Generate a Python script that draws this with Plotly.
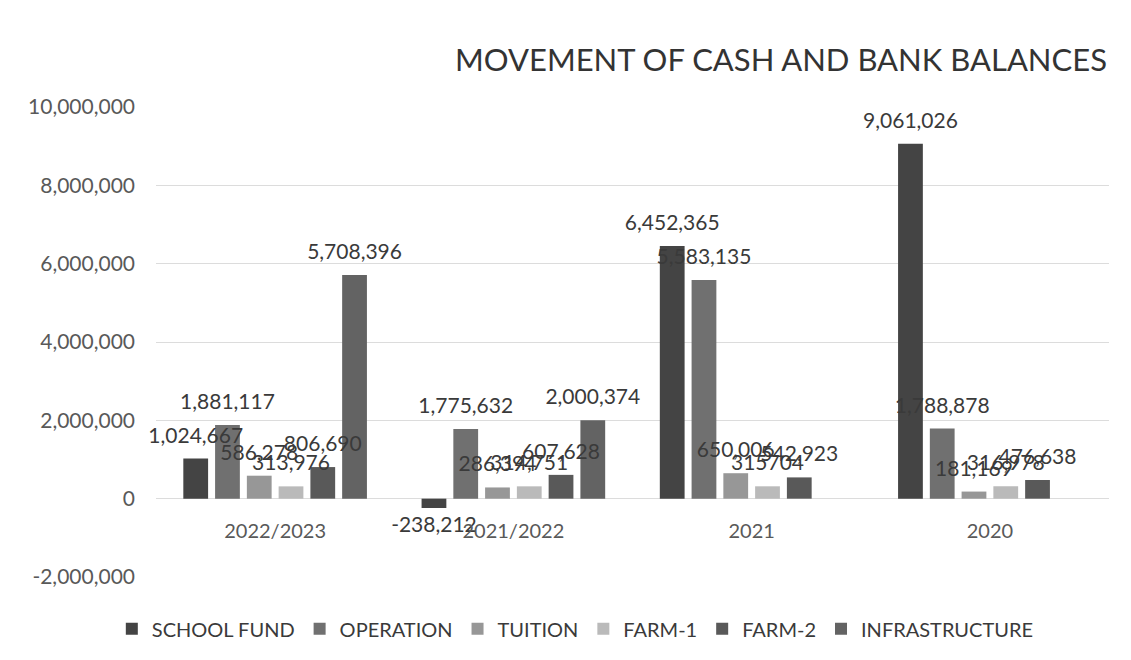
"""Movement of cash and bank balances — grouped bar chart."""

import plotly.graph_objects as go

# ---------------------------------------------------------------------------
# Data
# ---------------------------------------------------------------------------

years = ['2022/2023', '2021/2022', '2021', '2020']

school_fund = [1024667, -238212, 6452365, 9061026]
operation = [1881117, 1775632, 5583135, 1788878]
tuition = [586278, 286394, 650006, 181169]
farm_1 = [313976, 314751, 315704, 316978]
farm_2 = [806690, 607628, 542923, 476638]
infrastructure = [5708396, 2000374, None, None]

y_ticks = [-2000000, 0, 2000000, 4000000, 6000000, 8000000, 10000000]
y_tick_labels = ['-2,000,000', '0', '2,000,000', '4,000,000',
                 '6,000,000', '8,000,000', '10,000,000']

series = [
    ('SCHOOL FUND', school_fund, '#444444'),
    ('OPERATION', operation, '#707070'),
    ('TUITION', tuition, '#979797'),
    ('FARM-1', farm_1, '#bababa'),
    ('FARM-2', farm_2, '#595959'),
    ('INFRASTRUCTURE', infrastructure, '#636363'),
]

_FONT = 'Lato, Open Sans, sans-serif'
_LABEL_FONT = dict(family=_FONT, size=21, color='#3a3a3a')

Y_RANGE = [-2000000, 10000000]
# labels sit a little higher above the bars than plotly's default
_LIFT = 9 / 470 * (Y_RANGE[1] - Y_RANGE[0])


def _label(name, i, v):
    if v is None:
        return ''
    if name == 'FARM-1' and i == 2:
        return str(v)  # printed without a thousands separator in the source
    return f'{v:,}'


fig = go.Figure()
for name, values, color in series:
    labels = [_label(name, i, v) for i, v in enumerate(values)]
    # bars; negative values keep their label here (below the bar)
    fig.add_trace(go.Bar(
        x=years,
        y=values,
        name=name,
        marker=dict(color=color, line=dict(width=0)),
        text=[t if (v is not None and v < 0) else '' for t, v in zip(labels, values)],
        textposition='outside',
        constraintext='none',
        cliponaxis=False,
        textfont=_LABEL_FONT,
    ))

# label layer drawn on top of every bar (as in the source chart)
for name, values, color in series:
    labels = [_label(name, i, v) for i, v in enumerate(values)]
    fig.add_trace(go.Bar(
        x=years,
        y=values,
        name=name,
        xaxis='x2',
        yaxis='y2',
        showlegend=False,
        hoverinfo='skip',
        marker=dict(color='rgba(0,0,0,0)', line=dict(width=0)),
        text=[t if (v is not None and v >= 0) else '' for t, v in zip(labels, values)],
        textposition='outside',
        constraintext='none',
        cliponaxis=False,
        textfont=_LABEL_FONT,
    ))

# the page body adds an 8px offset, so margins are shifted by that amount
fig.update_layout(
    width=1131,
    height=660,
    paper_bgcolor='white',
    plot_bgcolor='white',
    barmode='group',
    bargap=0.2,
    bargroupgap=0.22,
    margin=dict(l=148, r=30, t=99, b=91),
    font=dict(family=_FONT, color='#595959'),
    title=dict(
        text='MOVEMENT OF CASH AND BANK BALANCES',
        font=dict(family=_FONT, size=31, color='#333333'),
        x=773 / 1131, xanchor='center',
        y=1 - 52 / 660, yanchor='middle',
    ),
    legend=dict(
        orientation='h',
        x=0.44, xanchor='center',
        y=-0.11, yanchor='middle',
        font=dict(family=_FONT, size=20, color='#3a3a3a'),
        itemwidth=30,
    ),
    xaxis=dict(
        anchor='free',
        position=1 / 6,
        showline=False,
        ticks='',
        showgrid=False,
        tickfont=dict(size=20, color='#595959'),
        ticklabelstandoff=18,
    ),
    yaxis=dict(
        range=Y_RANGE,
        tickvals=y_ticks,
        ticktext=y_tick_labels,
        showgrid=True,
        gridcolor='#dcdcdc',
        zeroline=True,
        zerolinecolor='#dcdcdc',
        zerolinewidth=1,
        tickfont=dict(size=21, color='#595959'),
        ticklabelstandoff=20,
    ),
    xaxis2=dict(overlaying='x', anchor='y2', matches='x', visible=False),
    yaxis2=dict(
        overlaying='y', anchor='x2', visible=False,
        range=[Y_RANGE[0] - _LIFT, Y_RANGE[1] - _LIFT],
    ),
    showlegend=True,
)

fig.write_html('out.html')
